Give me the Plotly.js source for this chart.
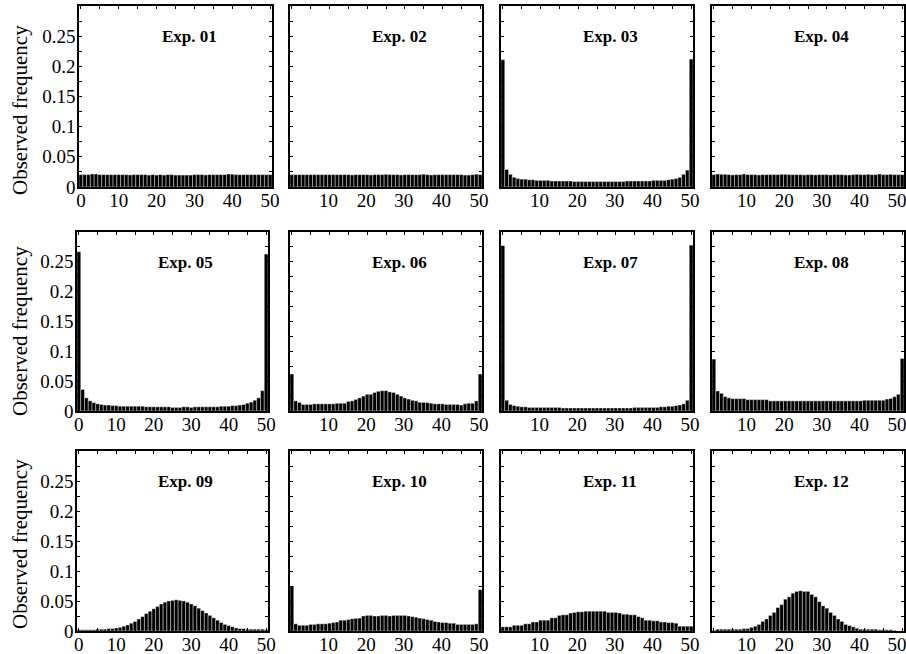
<!DOCTYPE html>
<html>
<head>
<meta charset="utf-8">
<script src="https://cdn.plot.ly/plotly-3.0.1.min.js"></script>
<style>html,body{margin:0;padding:0;background:#fff;}#chart{width:906px;height:654px;}</style>
</head>
<body>
<div id="chart"></div>
<script>
// Bin index (0..50)
const bins = Array.from({length: 51}, (_, i) => i);

// Panel titles
const titles = ["Exp. 01","Exp. 02","Exp. 03","Exp. 04","Exp. 05","Exp. 06",
                "Exp. 07","Exp. 08","Exp. 09","Exp. 10","Exp. 11","Exp. 12"];

const exp01 = [0.0205,0.0205,0.0205,0.0215,0.0215,0.0205,0.0205,0.0205,0.0205,0.0205,0.0205,0.0205,0.0205,0.0200,0.0205,0.0205,0.0205,0.0205,0.0198,0.0205,0.0198,0.0205,0.0198,0.0205,0.0205,0.0198,0.0198,0.0198,0.0198,0.0198,0.0205,0.0205,0.0205,0.0200,0.0205,0.0205,0.0205,0.0205,0.0205,0.0215,0.0212,0.0205,0.0205,0.0205,0.0205,0.0205,0.0205,0.0205,0.0205,0.0205,0.0205];
const exp02 = [0.0205,0.0205,0.0205,0.0205,0.0205,0.0205,0.0205,0.0205,0.0205,0.0205,0.0205,0.0205,0.0205,0.0205,0.0205,0.0205,0.0200,0.0205,0.0205,0.0205,0.0205,0.0200,0.0205,0.0205,0.0205,0.0210,0.0205,0.0205,0.0205,0.0200,0.0205,0.0205,0.0205,0.0205,0.0205,0.0212,0.0205,0.0200,0.0205,0.0205,0.0205,0.0205,0.0205,0.0205,0.0205,0.0205,0.0198,0.0198,0.0205,0.0212,0.0205];
const exp03 = [0.211,0.029,0.021,0.016,0.014,0.013,0.013,0.012,0.012,0.011,0.011,0.011,0.011,0.010,0.010,0.010,0.010,0.010,0.010,0.009,0.009,0.009,0.009,0.009,0.009,0.009,0.009,0.009,0.009,0.009,0.009,0.009,0.009,0.010,0.010,0.010,0.010,0.010,0.010,0.010,0.011,0.011,0.011,0.011,0.012,0.013,0.014,0.016,0.021,0.028,0.212];
const exp04 = [0.0205,0.0215,0.0210,0.0210,0.0205,0.0200,0.0205,0.0205,0.0215,0.0205,0.0205,0.0205,0.0200,0.0205,0.0205,0.0205,0.0205,0.0205,0.0210,0.0210,0.0205,0.0205,0.0205,0.0205,0.0200,0.0205,0.0205,0.0200,0.0205,0.0205,0.0205,0.0200,0.0205,0.0205,0.0205,0.0200,0.0200,0.0205,0.0210,0.0205,0.0205,0.0210,0.0205,0.0205,0.0215,0.0205,0.0205,0.0210,0.0205,0.0205,0.0205];
const exp05 = [0.267,0.036,0.022,0.017,0.014,0.012,0.011,0.010,0.010,0.009,0.009,0.008,0.008,0.008,0.008,0.008,0.008,0.008,0.007,0.007,0.007,0.007,0.007,0.007,0.007,0.006,0.006,0.006,0.007,0.007,0.006,0.007,0.007,0.007,0.007,0.007,0.007,0.007,0.008,0.008,0.008,0.009,0.009,0.010,0.011,0.013,0.015,0.018,0.022,0.034,0.263];
const exp06 = [0.062,0.017,0.0145,0.011,0.011,0.011,0.012,0.012,0.012,0.012,0.012,0.012,0.013,0.013,0.013,0.016,0.017,0.0195,0.022,0.025,0.028,0.028,0.031,0.033,0.034,0.034,0.032,0.031,0.028,0.025,0.022,0.020,0.018,0.017,0.0145,0.0145,0.014,0.013,0.012,0.012,0.012,0.011,0.011,0.011,0.011,0.010,0.012,0.013,0.013,0.017,0.062];
const exp07 = [0.277,0.018,0.011,0.009,0.008,0.007,0.007,0.006,0.006,0.006,0.006,0.006,0.006,0.006,0.006,0.006,0.005,0.005,0.005,0.005,0.005,0.005,0.005,0.005,0.005,0.005,0.005,0.005,0.005,0.005,0.005,0.005,0.005,0.005,0.005,0.006,0.006,0.006,0.006,0.006,0.006,0.006,0.007,0.007,0.008,0.008,0.009,0.010,0.012,0.018,0.278];
const exp08 = [0.087,0.0335,0.0296,0.024,0.022,0.0207,0.0207,0.0207,0.0207,0.019,0.019,0.019,0.019,0.019,0.019,0.017,0.017,0.017,0.017,0.017,0.017,0.017,0.017,0.017,0.017,0.017,0.017,0.017,0.017,0.017,0.017,0.017,0.017,0.017,0.017,0.017,0.017,0.017,0.017,0.017,0.018,0.018,0.018,0.018,0.018,0.018,0.020,0.021,0.024,0.028,0.088];
const exp09 = [0.002,0.002,0.002,0.002,0.002,0.003,0.003,0.003,0.004,0.004,0.005,0.006,0.008,0.010,0.013,0.016,0.020,0.024,0.029,0.033,0.037,0.041,0.045,0.048,0.050,0.051,0.052,0.051,0.050,0.048,0.045,0.042,0.038,0.034,0.030,0.026,0.022,0.018,0.014,0.011,0.009,0.007,0.005,0.004,0.004,0.003,0.003,0.003,0.003,0.003,0.002];
const exp10 = [0.075,0.012,0.0095,0.0095,0.0095,0.011,0.011,0.012,0.012,0.012,0.013,0.014,0.015,0.018,0.018,0.019,0.0205,0.021,0.0215,0.025,0.026,0.026,0.025,0.025,0.026,0.026,0.025,0.026,0.026,0.026,0.026,0.025,0.024,0.023,0.0215,0.0205,0.019,0.018,0.016,0.015,0.014,0.014,0.013,0.013,0.011,0.011,0.011,0.011,0.011,0.012,0.069];
const exp11 = [0.007,0.007,0.007,0.0095,0.0095,0.0095,0.012,0.012,0.015,0.015,0.018,0.018,0.018,0.022,0.022,0.026,0.027,0.027,0.030,0.031,0.032,0.032,0.033,0.033,0.033,0.033,0.033,0.033,0.031,0.031,0.031,0.030,0.028,0.028,0.027,0.027,0.024,0.022,0.018,0.018,0.017,0.017,0.015,0.015,0.014,0.014,0.013,0.008,0.008,0.008,0.008];
const exp12 = [0.001,0.003,0.003,0.003,0.003,0.003,0.003,0.003,0.004,0.004,0.006,0.008,0.011,0.016,0.020,0.026,0.031,0.039,0.044,0.053,0.057,0.063,0.066,0.067,0.066,0.066,0.061,0.057,0.049,0.042,0.038,0.031,0.026,0.020,0.016,0.011,0.009,0.007,0.0045,0.003,0.003,0.003,0.003,0.003,0.002,0.002,0.002,0.002,0.001,0,0];

const series = [exp01,exp02,exp03,exp04,exp05,exp06,exp07,exp08,exp09,exp10,exp11,exp12];

// Tick values / labels
const xTickVals = [0,5,10,15,20,25,30,35,40,45,50];
const xTickTextFirst = ["0","","10","","20","","30","","40","","50"];
const xTickTextOther = ["","","10","","20","","30","","40","","50"];
const yTickVals = [0,0.025,0.05,0.075,0.1,0.125,0.15,0.175,0.2,0.225,0.25,0.275];
const yTickTextFirst = ["0","","0.05","","0.1","","0.15","","0.2","","0.25",""];
const yTickTextOther = yTickVals.map(() => "");

// Layout geometry (pixels)
const W = 906, H = 654;
const colPx = [[[79,272],[290,482],[501,693],[712,904]],
               [[77,268],[290,482],[501,693],[712,904]],
               [[77,268],[290,482],[501,693],[712,904]]];
const rowPx = [[6,187],[232,411],[451,631]];
const xLabelShift = [0, -1, -1, -5];

const font = "Liberation Serif, Times New Roman, serif";
const data = [];
const layout = {
  width: W, height: H,
  margin: {l:0, r:0, t:0, b:0, pad:0},
  paper_bgcolor: "#fff", plot_bgcolor: "#fff",
  showlegend: false,
  bargap: 0,
  font: {family: font, color: "#000"},
  annotations: []
};

for (let i = 0; i < 12; i++) {
  const r = Math.floor(i / 4), c = i % 4, n = i + 1;
  const xa = "xaxis" + (n === 1 ? "" : n), ya = "yaxis" + (n === 1 ? "" : n);
  const xr = "x" + (n === 1 ? "" : n), yr = "y" + (n === 1 ? "" : n);
  data.push({
    type: "bar", x: bins, y: series[i], xaxis: xr, yaxis: yr,
    marker: {color: "#000", line: {color: "#fff", width: 0.4}},
    hoverinfo: "x+y"
  });
  const cp = colPx[r][c], rp = rowPx[r];
  layout[xa] = {
    domain: [cp[0] / W, cp[1] / W], anchor: yr,
    range: [-0.5, 50.5], showgrid: false, zeroline: false,
    showline: true, linecolor: "#000", linewidth: 1.6, mirror: "allticks",
    ticks: "inside", ticklen: 3, tickwidth: 1, tickcolor: "#000",
    tickmode: "array", tickvals: xTickVals,
    ticktext: c === 0 ? xTickTextFirst : xTickTextOther,
    ticklabeloverflow: "allow",
    ticklabelstandoff: -4,
    ticklabelshift: xLabelShift[c],
    tickfont: {family: font, size: 19, color: "#000"}
  };
  layout[ya] = {
    domain: [1 - rp[1] / H, 1 - rp[0] / H], anchor: xr,
    range: [0, 0.3], showgrid: false, zeroline: false,
    showline: true, linecolor: "#000", linewidth: 1.6, mirror: "allticks",
    ticks: "inside", ticklen: 3, tickwidth: 1, tickcolor: "#000",
    tickmode: "array", tickvals: yTickVals,
    ticktext: c === 0 ? yTickTextFirst : yTickTextOther,
    ticklabelstandoff: -2,
    tickfont: {family: font, size: 19, color: "#000"}
  };
  layout.annotations.push({
    text: "<b>" + titles[i] + "</b>",
    xref: xr + " domain", yref: yr + " domain",
    x: 0.57, y: 0.83, xanchor: "center", yanchor: "middle",
    showarrow: false, font: {family: font, size: 17, color: "#000"}
  });
}

// Y axis titles as rotated annotations, one per row
const yTitleCenters = [110, 331, 544];
yTitleCenters.forEach(yc => {
  layout.annotations.push({
    text: "Observed frequency", xref: "paper", yref: "paper",
    x: 20 / W, y: 1 - yc / H, xanchor: "center", yanchor: "middle",
    textangle: -90, showarrow: false,
    font: {family: font, size: 21, color: "#000"}
  });
});

Plotly.newPlot("chart", data, layout, {displayModeBar: false, staticPlot: true});
</script>
</body>
</html>
